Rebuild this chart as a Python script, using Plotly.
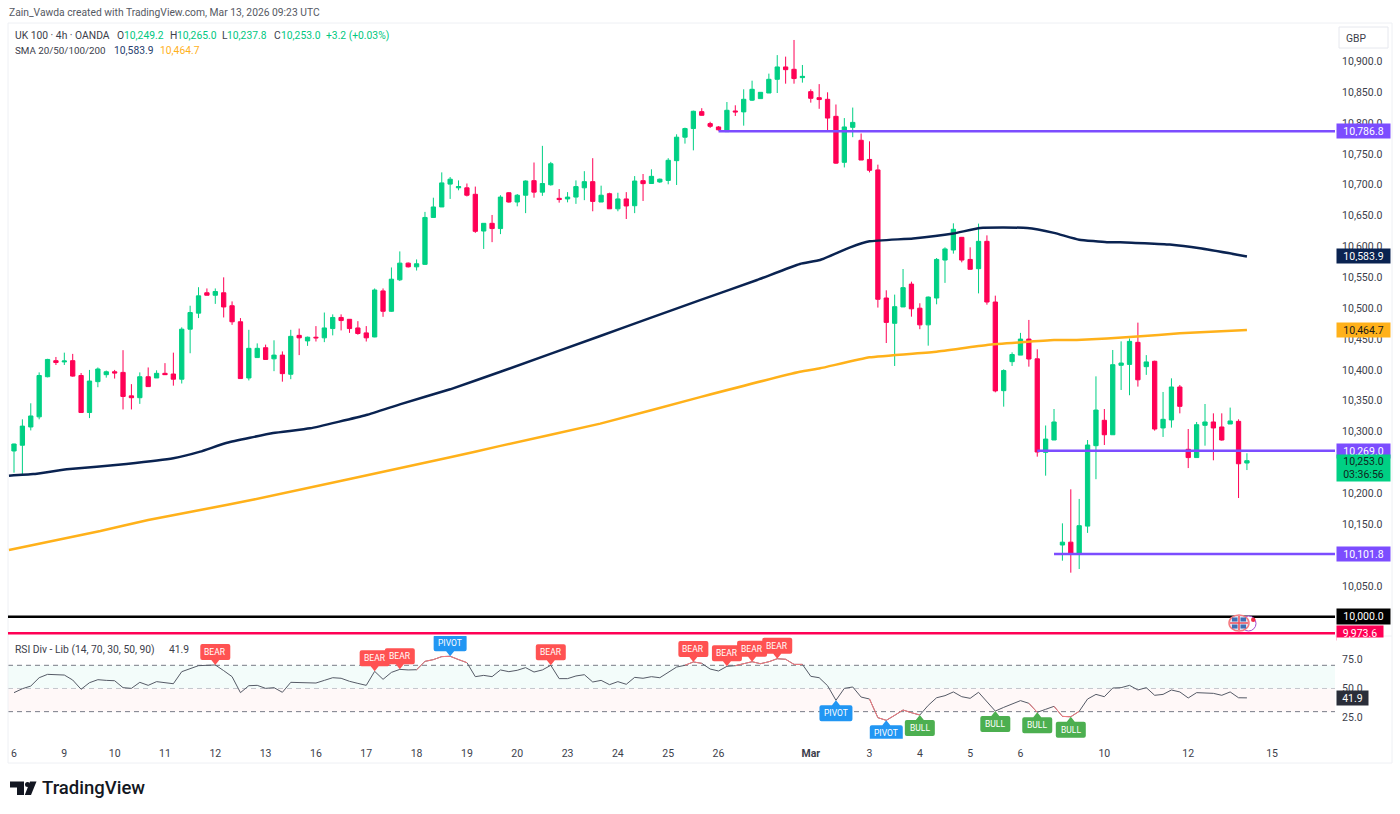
import plotly.graph_objects as go

# UK 100 4h candles (one entry per bar)
opens = [10268.7, 10278, 10307.6, 10324, 10389, 10415, 10413, 10415, 10391, 10331,
         10381, 10392.3, 10397, 10396, 10358, 10355, 10389, 10387, 10394.5, 10393.4,
         10385, 10466, 10492, 10525, 10521, 10525, 10504, 10478, 10387, 10420,
         10436, 10418, 10424, 10393, 10456, 10447, 10453, 10452, 10467, 10485,
         10482, 10468, 10460, 10453.4, 10528, 10495, 10546, 10573, 10567, 10571,
         10647, 10664, 10701, 10695, 10695, 10684.5, 10625, 10637.5, 10629, 10687,
         10672, 10683, 10706.6, 10688, 10700, 10678, 10677, 10680, 10695, 10705,
         10672, 10685.5, 10661, 10677, 10666, 10706.6, 10702, 10704.5, 10707, 10739,
         10777, 10791, 10818.4, 10799, 10793.6, 10786, 10819.5, 10818, 10837, 10839.5,
         10848.6, 10870.8, 10890.8, 10887, 10873.5, 10850.8, 10841, 10838.4, 10810.8, 10736.3,
         10793, 10772, 10741, 10724, 10516.5, 10475.5, 10502, 10539, 10500, 10473,
         10516.5, 10578, 10594.3, 10614.8, 10579, 10564, 10608.3, 10510, 10366.4, 10413.4,
         10424, 10450, 10418, 10266.5, 10286.5, 10116.4, 10121, 10103, 10147, 10277.3,
         10318.4, 10295, 10407.5, 10409, 10444.7, 10405.3, 10414, 10306, 10319, 10372.4,
         10271.4, 10258, 10310.3, 10315.7, 10307.6, 10312.4, 10316.7, 10249.2]
highs = [10280.5, 10320, 10346, 10396, 10418, 10421, 10428, 10426, 10395, 10400,
         10404, 10399, 10400, 10432, 10377, 10396, 10404, 10399.4, 10411, 10428,
         10469, 10504, 10534, 10532, 10532, 10550, 10511, 10484, 10465, 10443,
         10441, 10448, 10430, 10465, 10467, 10454, 10471, 10493, 10490, 10490,
         10482.5, 10479, 10471, 10532, 10532, 10566, 10592, 10574, 10579, 10656,
         10679, 10720, 10712.5, 10707, 10702, 10697, 10637.5, 10651, 10683, 10688,
         10685, 10707, 10736, 10763, 10737, 10693, 10688, 10707, 10722, 10743,
         10698.5, 10687, 10687, 10688, 10714, 10717.4, 10725, 10710, 10743, 10781.7,
         10792.5, 10820, 10824, 10802, 10795, 10834, 10828.7, 10854.6, 10868.6, 10849.7,
         10880, 10910, 10907.5, 10934.5, 10894, 10854.6, 10863, 10849.7, 10830, 10808,
         10825, 10783, 10770.3, 10732.5, 10529, 10522, 10563.5, 10543, 10508, 10519,
         10581.3, 10598.6, 10637.5, 10615.4, 10598.6, 10637, 10618, 10520.3, 10401, 10428.5,
         10460, 10481, 10433.4, 10310, 10336.7, 10151.5, 10206.6, 10191, 10286.5, 10389.6,
         10336.7, 10432.3, 10446.3, 10451, 10476.6, 10424, 10415, 10364.3, 10386.4, 10375.6,
         10304.3, 10315.7, 10344.8, 10329.7, 10329.7, 10339, 10320, 10265.0]
lows = [10233.6, 10230, 10302, 10320, 10388, 10408, 10408, 10389, 10331, 10322,
        10372, 10387.5, 10386, 10336, 10336, 10345, 10373, 10387, 10392, 10374.5,
        10378, 10427, 10484, 10521, 10507, 10485, 10473, 10386, 10383, 10420,
        10417, 10398, 10381, 10385, 10424, 10439, 10446, 10445, 10456, 10464,
        10460, 10457, 10446, 10453, 10486, 10494, 10544, 10566, 10561, 10570,
        10647, 10664, 10677, 10691, 10681, 10622, 10596, 10607, 10620, 10671,
        10665, 10654, 10679, 10682, 10698.5, 10671, 10671.5, 10669, 10675, 10657,
        10672, 10661, 10657, 10644.5, 10654, 10673.7, 10702, 10703, 10700.7, 10699.6,
        10766.6, 10755.7, 10812, 10792, 10787.6, 10786, 10811.4, 10795.7, 10835.7, 10839.5,
        10848.6, 10848.6, 10863.7, 10863.7, 10865.4, 10833, 10823, 10786, 10734, 10728,
        10777, 10740, 10720, 10501, 10443.6, 10406.4, 10502, 10486.3, 10466, 10439.3,
        10506.3, 10541, 10588.4, 10574.3, 10563, 10524, 10505.7, 10363.7, 10340.5, 10406.4,
        10424, 10405.3, 10259.5, 10228.7, 10286.5, 10091, 10071.6, 10077.5, 10136, 10223,
        10278.4, 10295, 10367.5, 10359, 10373, 10392, 10301.6, 10291.4, 10306.5, 10329.7,
        10241, 10258, 10277.3, 10253.6, 10285.4, 10312.4, 10192.5, 10237.8]
closes = [10280, 10309, 10325.4, 10391, 10417, 10412, 10414.5, 10390, 10331, 10382,
          10401.5, 10397, 10395, 10357, 10355, 10389, 10373, 10394.5, 10392.3, 10385,
          10466, 10493, 10520, 10521, 10527, 10502, 10478, 10386, 10435, 10435,
          10417, 10424, 10394, 10454.4, 10452, 10453, 10452, 10468, 10485, 10480,
          10467, 10459, 10452, 10529.5, 10495, 10547, 10573, 10567, 10572, 10647,
          10664, 10703, 10709, 10697, 10683, 10624.5, 10637.5, 10629, 10680, 10672,
          10683, 10706, 10688, 10702, 10734, 10676, 10680, 10697, 10705, 10673,
          10683, 10661, 10677, 10665.6, 10706, 10701.8, 10713.6, 10709, 10739.6, 10777,
          10791, 10819, 10812.5, 10794.6, 10789, 10820.6, 10818, 10838.4, 10854.6, 10849.7,
          10870.8, 10890.8, 10886.4, 10872, 10875.6, 10840, 10838, 10808, 10735, 10793.6,
          10801, 10740, 10723.4, 10514.4, 10477, 10502.5, 10533.3, 10499, 10473, 10518,
          10579, 10596, 10627.8, 10578, 10563, 10608.3, 10510, 10366, 10399, 10425,
          10450, 10417.7, 10267, 10288, 10315.7, 10121, 10103, 10147.7, 10278.4, 10335,
          10295, 10408.5, 10411.2, 10446.3, 10384, 10413, 10304.3, 10320, 10372.4, 10341,
          10258, 10311.3, 10315.7, 10306, 10286.5, 10317.3, 10248, 10253.0]

# moving averages, sampled along the curve
sma_navy_x = [-0.6, 2.3, 6.3, 13.4, 19, 22.2, 25.4, 30.9, 35.3, 42, 46, 52, 58, 69.9, 75.8, 81.8,
              88.6, 93.7, 96.1, 99.7, 102, 107.2, 112, 115.2, 120.8, 124, 127, 130.3, 131.9,
              137.8, 141.4, 147]
sma_navy = [10228.7, 10231.4, 10239, 10247.6, 10256.8, 10267.6, 10282, 10297.8, 10305.4, 10327,
            10344.3, 10368.6, 10397, 10455, 10484, 10513, 10545.7, 10571.6, 10578, 10598.6,
            10608.3, 10613, 10621, 10630, 10630, 10622, 10611, 10607, 10607, 10603, 10597, 10583.9]
sma_gold_x = [-0.6, 10.3, 16, 22.2, 28.6, 52, 58, 69.9, 81.8, 93.7, 96.1, 102, 110, 116, 124,
              126.7, 133.9, 139, 147]
sma_gold = [10108.3, 10139, 10157, 10173, 10190, 10258.4, 10277, 10313, 10356, 10397, 10402.6,
            10420.4, 10429.6, 10440.4, 10448.5, 10448.5, 10454, 10459.3, 10464.7]

# horizontal levels and the bar each one starts from
level_prices = [10786.8, 10269.0, 10101.8]
level_starts = [84, 122, 124]
round_level = 10000.0
low_level = 9973.6

# RSI, one value per bar
rsi = [46.4, 49.8, 52.1, 59.3, 62.2, 61.6, 61.6, 57.3, 49.3, 55, 57.6, 57, 56.7, 50.7, 50.1, 55.3,
       52.7, 55.9, 55.3, 54.1, 64.5, 67.4, 69.7, 70, 70.3, 65.4, 60.2, 46.4, 52.4, 52.7, 50.1, 50.7,
       46.7, 55.3, 55, 54.7, 54.7, 57, 59.3, 58.8, 56.2, 54.4, 52.7, 64.8, 57.9, 63.9, 66.5, 66,
       66.2, 73.4, 74.9, 77.5, 77.8, 74.9, 72.3, 60.2, 61.3, 60.2, 66, 64.5, 65.7, 68, 64.2, 66,
       70, 58.5, 58.5, 60.8, 61.9, 55.6, 57, 53.3, 55.9, 53.6, 59.6, 58.8, 60.2, 59.3, 63.6, 68.5,
       70, 72.9, 71.7, 66.8, 65.1, 69.1, 69.7, 71.4, 73.1, 71.4, 73.1, 75.7, 75.2, 70.8, 70.8, 60.5,
       59.3, 52.4, 39.8, 50.1, 51.3, 42.6, 40.9, 24.8, 22.5, 26.8, 31.4, 29.1, 27.1, 35.4, 42, 43.8,
       47, 42.9, 41.5, 46.7, 38.6, 30.5, 33.7, 36.9, 39.5, 37.2, 29.4, 32, 34.6, 25.9, 25.6, 30.3,
       40.9, 44.9, 42.9, 50.4, 50.7, 52.7, 48.7, 50.7, 44.1, 44.9, 48.7, 47, 41.8, 46.4, 46.4, 45.8,
       44.1, 47, 42, 41.9]
rsi_red_spans = [(48, 54), (80, 82), (86, 94), (102, 108), (121, 122), (124, 127)]

bear_bars = [24, 43, 46, 64, 81, 85, 88, 91]
pivot_top_bars = [52]
pivot_low_bars = [98, 104]
bull_bars = [108, 117, 122, 126]

tick_bars = [0, 6, 12, 18, 24, 30, 36, 42, 48, 54, 60, 66, 72, 78, 84, 95, 102, 108, 114, 120, 130, 140, 150]
tick_names = ["6", "9", "10", "11", "12", "13", "16", "17", "18", "19", "20", "23", "24", "25", "26",
              "<b>Mar</b>", "3", "4", "5", "6", "10", "12", "15"]
price_ticks = [10050, 10100, 10150, 10200, 10250, 10300, 10350, 10400, 10450, 10500, 10550,
               10600, 10650, 10700, 10750, 10800, 10850, 10900]
rsi_ticks = [25, 50, 75]

GREEN = "#00d084"
RED = "#ff0055"
NAVY = "#0a2351"
GOLD = "#ffb11a"
PURPLE = "#7c4dff"
FONT = "Roboto"

W, H = 1400, 814


def px(x):
    return x / W


def py(y):
    return 1 - y / H


fig = go.Figure()

for price, start in zip(level_prices, level_starts):
    fig.add_trace(go.Scatter(x=[start, 157.5], y=[price, price], mode="lines",
                             line=dict(color=PURPLE, width=2.5), hoverinfo="skip"))
for price, color in [(round_level, "#000000"), (low_level, RED)]:
    fig.add_trace(go.Scatter(x=[-0.72, 157.5], y=[price, price], mode="lines",
                             line=dict(color=color, width=2.5), hoverinfo="skip"))
fig.add_trace(go.Scatter(x=sma_gold_x, y=sma_gold, mode="lines", line=dict(color=GOLD, width=2.5, shape="spline", smoothing=0.4),
                         hoverinfo="skip"))
fig.add_trace(go.Scatter(x=sma_navy_x, y=sma_navy, mode="lines", line=dict(color=NAVY, width=2.5, shape="spline", smoothing=0.4),
                         hoverinfo="skip"))

fig.add_trace(go.Candlestick(x=list(range(len(closes))), open=opens, high=highs, low=lows, close=closes,
                             increasing=dict(line=dict(color=GREEN, width=1), fillcolor=GREEN),
                             decreasing=dict(line=dict(color=RED, width=1), fillcolor=RED),
                             whiskerwidth=0, hoverinfo="skip"))

# RSI pane
bars = list(range(len(rsi)))
fig.add_trace(go.Scatter(x=bars, y=rsi, yaxis="y2", mode="lines", line=dict(color="#555a66", width=1),
                         hoverinfo="skip"))
for a, b in rsi_red_spans:
    fig.add_trace(go.Scatter(x=bars[a:b + 1], y=rsi[a:b + 1], yaxis="y2", mode="lines",
                             line=dict(color="#f87a7f", width=1), hoverinfo="skip"))

shapes = [
    dict(type="rect", xref="paper", yref="y2", x0=px(8), x1=px(1335), y0=50, y1=70,
         fillcolor="#f3fcfa", line_width=0, layer="below"),
    dict(type="rect", xref="paper", yref="y2", x0=px(8), x1=px(1335), y0=30, y1=50,
         fillcolor="#fff8f8", line_width=0, layer="below"),
]
for level, color in [(70, "#787b86"), (50, "#c4c6cc"), (30, "#787b86")]:
    shapes.append(dict(type="line", xref="paper", yref="y2", x0=px(8), x1=px(1335), y0=level, y1=level,
                       line=dict(color=color, width=1, dash="5px,4px"), layer="below"))

# chart frame
frame = "#eef0f4"
for x0, y0, x1, y1 in [(8, 23, 1392, 23), (8, 23, 8, 763), (1392, 23, 1392, 763), (8, 763, 1392, 763),
                       (1335, 636, 1392, 636)]:
    shapes.append(dict(type="line", xref="paper", yref="paper", x0=px(x0), x1=px(x1), y0=py(y0), y1=py(y1),
                       line=dict(color=frame, width=1), layer="below"))
# GBP button
shapes.append(dict(type="rect", xref="paper", yref="paper", x0=px(1339), x1=px(1388), y0=py(27), y1=py(48),
                   line=dict(color="#e6e8ee", width=1), fillcolor="#ffffff"))


def tag_path(w, up):
    # rounded label with a small pointer, sizes in pixels from the tip
    s = 1 if up else -1
    hw = w / 2
    r = 2
    a, b = 5 * s, 21 * s
    return (f"M0,0 L4,{a} L{hw - r},{a} Q{hw},{a} {hw},{a + r * s} L{hw},{b - r * s} Q{hw},{b} {hw - r},{b} "
            f"L{-hw + r},{b} Q{-hw},{b} {-hw},{b - r * s} L{-hw},{a + r * s} Q{-hw},{a} {-hw + r},{a} L-4,{a} Z")


annotations = []


def add_text(x, y, text, color="#4a4e59", size=10.5, weight=None):
    # annotations carry about 2px of padding on the left
    annotations.append(dict(x=px(x - 2), y=py(y), xref="paper", yref="paper", text=text, showarrow=False,
                            xanchor="left", yanchor="middle",
                            font=dict(family=FONT, size=size, color=color, weight=weight)))


def add_tag(bar, label, color, up):
    w = 33 if label == "PIVOT" else 30
    shapes.append(dict(type="path", xref="x", yref="y2", xsizemode="pixel", ysizemode="pixel",
                       xanchor=bar, yanchor=rsi[bar], path=tag_path(w, up), fillcolor=color, line_width=0))
    annotations.append(dict(x=bar, y=rsi[bar], xref="x", yref="y2", text=label, showarrow=False,
                            yshift=13 if up else -13, font=dict(family=FONT, size=8.5, color="#ffffff")))


for bar in bear_bars:
    add_tag(bar, "BEAR", "#ff5252", True)
for bar in pivot_top_bars:
    add_tag(bar, "PIVOT", "#2196f3", True)
for bar in pivot_low_bars:
    add_tag(bar, "PIVOT", "#2196f3", False)
for bar in bull_bars:
    add_tag(bar, "BULL", "#4caf50", False)


def add_badge(y, yref, text, bg, fg="#ffffff", w=49, h=10):
    annotations.append(dict(x=px(1336), y=y, xref="paper", yref=yref, xanchor="left", yanchor="middle",
                            text=text, showarrow=False, bgcolor=bg, width=w, height=h, borderpad=2,
                            align="center", font=dict(family=FONT, size=10.5, color=fg)))


add_badge(level_prices[0], "y", "10,786.8", PURPLE)
add_badge(10583.9, "y", "10,583.9", NAVY)
add_badge(10464.7, "y", "10,464.7", GOLD, fg="#1a1a1a")
add_badge(level_prices[1], "y", "10,269.0", PURPLE)
add_badge(10241, "y", "10,253.0<br>03:36:56", GREEN, fg="#10261c", h=22)
add_badge(level_prices[2], "y", "10,101.8", PURPLE)
add_badge(round_level, "y", "10,000.0", "#000000", h=11)
add_badge(low_level, "y", "9,973.6", RED, w=42, h=10)
add_badge(41.9, "y2", "41.9", "#2a2e39", w=27, h=10)
# hide the part of the 9,973.6 badge that runs past the pane
annotations.append(dict(x=px(1336), y=py(637), xref="paper", yref="paper", xanchor="left", yanchor="top",
                        text=" ", showarrow=False, bgcolor="#ffffff", width=52, height=6, borderpad=0))

# header text
add_text(9, 12.5, "Zain_Vawda created with TradingView.com, Mar 13, 2026 09:23 UTC", "#555963", 10.3)
add_text(15, 35.5, "UK 100 · 4h · OANDA", "#3c404b", 10.3)
for x, letter, value in [(116.5, "O", "10,249.2"), (169.5, "H", "10,265.0"), (222, "L", "10,237.8"), (273.5, "C", "10,253.0")]:
    add_text(x, 35.5, letter, "#3c404b", 10.3)
    add_text(x + (5 if letter == "L" else 7.5), 35.5, value, "#00c77f", 10.3)
add_text(326, 35.5, "+3.2 (+0.03%)", "#00c77f", 10.3)
add_text(15, 50, "SMA 20/50/100/200", "#3c404b", 9.8)
add_text(113.5, 50, "10,583.9", "#27406e", 10.3)
add_text(159.5, 50, "10,464.7", GOLD, 10.3)
add_text(15, 649.5, "RSI Div - Lib (14, 70, 30, 50, 90)", "#3c404b", 10.3)
add_text(168.5, 649.5, "41.9", "#3c404b", 10.3)
add_text(1346, 38, "GBP", "#3c404b", 10.3)

# TradingView logo
logo = "#131722"
shapes += [
    dict(type="path", xref="paper", yref="paper", fillcolor=logo, line_width=0,
         path=f"M{px(10)},{py(781.5)} L{px(24)},{py(781.5)} L{px(24)},{py(795)} L{px(17)},{py(795)} "
              f"L{px(17)},{py(787.5)} L{px(10)},{py(787.5)} Z"),
    dict(type="path", xref="paper", yref="paper", fillcolor=logo, line_width=0,
         path=f"M{px(30)},{py(781.5)} L{px(36.5)},{py(781.5)} L{px(31)},{py(795)} L{px(24.8)},{py(795)} Z"),
    dict(type="circle", xref="paper", yref="paper", fillcolor=logo, line_width=0,
         x0=px(25), x1=px(30), y0=py(782), y1=py(787)),
]
add_text(42, 788, "TradingView", logo, 18.5, weight=500)

# small flag and event icon on the levels
shapes += [
    dict(type="circle", xref="paper", yref="paper", x0=px(1241), x1=px(1256), y0=py(616), y1=py(631),
         fillcolor="#ffffff", line=dict(color="#a64bd0", width=1)),
    dict(type="circle", xref="paper", yref="paper", x0=px(1251), x1=px(1255.5), y0=py(617.5), y1=py(622),
         fillcolor="#f0304a", line_width=0),
    dict(type="circle", xref="paper", yref="paper", x0=px(1229), x1=px(1249), y0=py(615), y1=py(631),
         fillcolor="#dfe6f3", line=dict(color="#f57a80", width=1.5)),
    dict(type="rect", xref="paper", yref="paper", x0=px(1232), x1=px(1237.5), y0=py(617.5), y1=py(621.5),
         fillcolor="#3f6fb5", line_width=0),
    dict(type="rect", xref="paper", yref="paper", x0=px(1240.5), x1=px(1246), y0=py(617.5), y1=py(621.5),
         fillcolor="#3f6fb5", line_width=0),
    dict(type="rect", xref="paper", yref="paper", x0=px(1232), x1=px(1237.5), y0=py(624.5), y1=py(628.5),
         fillcolor="#3f6fb5", line_width=0),
    dict(type="rect", xref="paper", yref="paper", x0=px(1240.5), x1=px(1246), y0=py(624.5), y1=py(628.5),
         fillcolor="#3f6fb5", line_width=0),
    dict(type="line", xref="paper", yref="paper", x0=px(1230), x1=px(1248), y0=py(623), y1=py(623),
         line=dict(color="#f0505a", width=1.5)),
    dict(type="line", xref="paper", yref="paper", x0=px(1239), x1=px(1239), y0=py(616), y1=py(630),
         line=dict(color="#f0505a", width=1.5)),
]

fig.update_layout(
    width=W, height=H, margin=dict(l=0, r=0, t=0, b=0), showlegend=False,
    paper_bgcolor="#ffffff", plot_bgcolor="#ffffff", boxgap=0.27, shapes=shapes, annotations=annotations,
    font=dict(family=FONT, size=10.5, color="#3c404b"),
    xaxis=dict(domain=[px(8), px(1335)], range=[-0.715, 157.5], anchor="y2", rangeslider=dict(visible=False),
               tickmode="array", tickvals=tick_bars, ticktext=tick_names, showgrid=False, zeroline=False,
               ticks="outside", ticklen=5, tickcolor="rgba(0,0,0,0)", showline=False,
               tickfont=dict(family=FONT, size=10.5, color="#3c404b")),
    yaxis=dict(domain=[py(635.5), py(23)], range=[9969.8, 10962], side="right", anchor="x", tickmode="array",
               tickvals=price_ticks, tickformat=",.1f", showgrid=False, zeroline=False, showline=False,
               ticks="outside", ticklen=4, tickcolor="rgba(0,0,0,0)",
               tickfont=dict(family=FONT, size=10.5, color="#3c404b")),
    yaxis2=dict(domain=[py(738.7), py(636)], range=[6.65, 95.3], side="right", anchor="x", tickmode="array",
                tickvals=rsi_ticks, tickformat=".1f", showgrid=False, zeroline=False, showline=False,
                ticks="outside", ticklen=4, tickcolor="rgba(0,0,0,0)",
                tickfont=dict(family=FONT, size=10.5, color="#3c404b")),
)

fig.write_html("out.html", post_script="document.body.style.margin='0';", config={"displayModeBar": False})
